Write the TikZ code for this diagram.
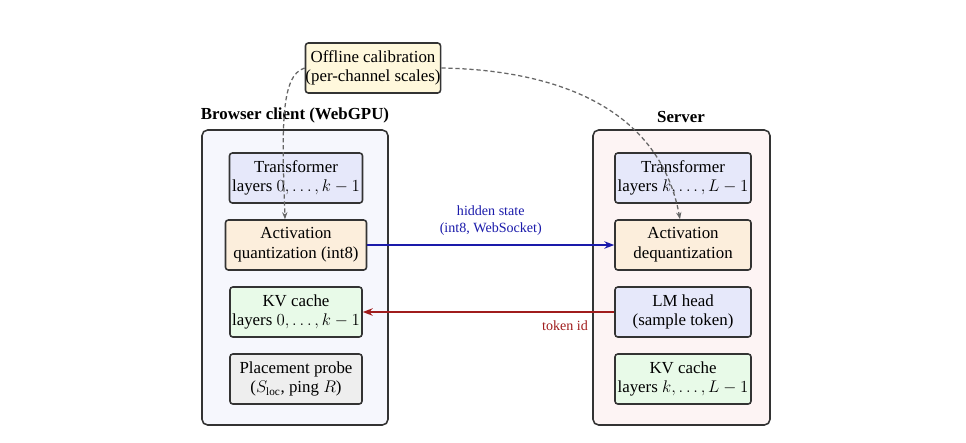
\documentclass[tikz,border=0pt]{standalone}
\usepackage{fontspec}
\setmainfont{Liberation Serif}
\usetikzlibrary{arrows.meta,calc}
\definecolor{cbox}{HTML}{F6F7FD}
\definecolor{sbox}{HTML}{FDF4F4}
\definecolor{tf}{HTML}{E6E8FA}
\definecolor{act}{HTML}{FCEEDC}
\definecolor{kv}{HTML}{E8FAE8}
\definecolor{pr}{HTML}{EEEEEE}
\definecolor{cal}{HTML}{FFF8DC}
\definecolor{hid}{HTML}{1A1AAA}
\definecolor{tok}{HTML}{A01C1C}
\tikzset{
  cont/.style={draw=black!80, line width=1.1pt, rounded corners=4pt},
  blk/.style={draw=black!80, line width=1.1pt, rounded corners=2pt, align=center,
    font=\fontsize{12}{14}\selectfont, inner sep=0pt, minimum height=50*0.025cm},
  dsh/.style={densely dashed, gray!80!black, line width=0.9pt, -{Stealth[length=5pt]}},
  ttl/.style={font=\bfseries\fontsize{12}{14}\selectfont},
}
\begin{document}
\begin{tikzpicture}[x=0.025cm,y=-0.025cm]
\useasboundingbox (0,0) rectangle (966,442);
% containers
\draw[cont, fill=cbox] (202,130) rectangle (388,425);
\draw[cont, fill=sbox] (593,130) rectangle (770,425);
\node[ttl] (ctitle) at (295,115) {Browser client (WebGPU)};
\node[ttl] (stitle) at (681,117) {Server};
% left blocks
\node[blk, fill=tf, minimum width=133*0.025cm] (ltf) at (296,178) {Transformer\\layers $0,\dots,k-1$};
\node[blk, fill=act, minimum width=141*0.025cm] (lact) at (296,245) {Activation\\quantization (int8)};
\node[blk, fill=kv, minimum width=132*0.025cm] (lkv) at (296,312) {KV cache\\layers $0,\dots,k-1$};
\node[blk, fill=pr, minimum width=132*0.025cm] (lpr) at (296,379) {Placement probe\\($S_{\mathrm{loc}}$, ping $R$)};
% right blocks
\node[blk, fill=tf, minimum width=136*0.025cm] (rtf) at (683,178) {Transformer\\layers $k,\dots,L-1$};
\node[blk, fill=act, minimum width=136*0.025cm] (ract) at (683,245) {Activation\\dequantization};
\node[blk, fill=tf, minimum width=136*0.025cm] (rlm) at (683,312) {LM head\\(sample token)};
\node[blk, fill=kv, minimum width=136*0.025cm] (rkv) at (683,379) {KV cache\\layers $k,\dots,L-1$};
% calibration
\node[blk, fill=cal, minimum width=121*0.025cm] (cal) at (373,68) {Offline calibration\\(per-channel scales)};
% dashed
\draw[dsh] (cal.west) .. controls (280,75) and (282,130) .. (lact.north -| 285,0);
\draw[dsh] (cal.east) .. controls (560,70) and (660,110) .. (ract.north -| 680,0);
% messages
\draw[hid, line width=1.2pt, -{Stealth[length=7pt]}] (lact.east) -- (ract.west)
  node[midway, above=3pt, align=center, font=\fontsize{10}{12}\selectfont, hid] (hl) {hidden state\\(int8, WebSocket)};
\draw[tok, line width=1.2pt, -{Stealth[length=7pt]}] (rlm.west) -- (lkv.east);
\node[tok, font=\fontsize{10}{12}\selectfont] (tl) at (565,326) {token id};
\end{tikzpicture}
\end{document}
